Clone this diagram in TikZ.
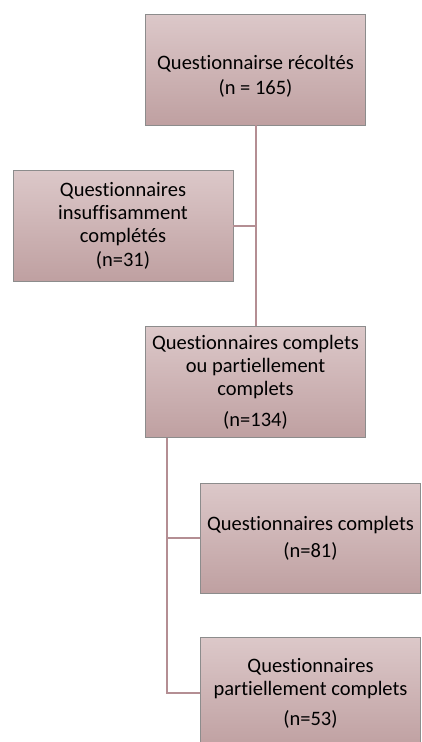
\documentclass[tikz,border=0pt]{standalone}
\usepackage{fontspec}
\setmainfont{Carlito}[Ligatures=CommonOff]
\usepackage{tikz}
\usetikzlibrary{positioning}

\definecolor{boxtop}{HTML}{DCC8C9}
\definecolor{boxbottom}{HTML}{BFA0A1}
\definecolor{boxline}{HTML}{8C8C8C}
\definecolor{linkline}{HTML}{B48E93}

\begin{document}
\begin{tikzpicture}[x=1pt,y=-1pt,
  box/.style={rectangle, draw=boxline, line width=0.8pt, top color=boxtop, bottom color=boxbottom,
    minimum width=220pt, minimum height=111pt, inner sep=0pt, align=center,
    font=\fontsize{20.5}{23}\selectfont},
  link/.style={draw=linkline, line width=2pt}]
  \useasboundingbox (0,0) rectangle (422,742);

  \node [box] (recoltes) at (255.5,69.5) {\rule{0pt}{28pt}Questionnairse récoltés\\[2pt](n = 165)};
  \node [box] (insuff) at (123,225.5) {Questionnaires\\insuffisamment\\complétés\\[1pt](n=31)};
  \node [box] (complets) at (255.5,382) {Questionnaires complets\\ou partiellement\\complets\\[8pt](n=134)};
  \node [box, minimum height=110pt] (tous) at (310.5,538) {Questionnaires complets\\[4pt](n=81)};
  \node [box] (partiels) at (310.5,693) {Questionnaires\\partiellement complets\\[7pt](n=53)};

  \coordinate (j1) at (recoltes.south |- insuff.east);
  \coordinate (j2) at ([xshift=22pt]complets.south west);

  \draw [link] (recoltes.south) -- (complets.north);
  \draw [link] (j1) -- (insuff.east);
  \draw [link] (j2) |- (tous.west);
  \draw [link] (j2) |- (partiels.west);
\end{tikzpicture}
\end{document}
